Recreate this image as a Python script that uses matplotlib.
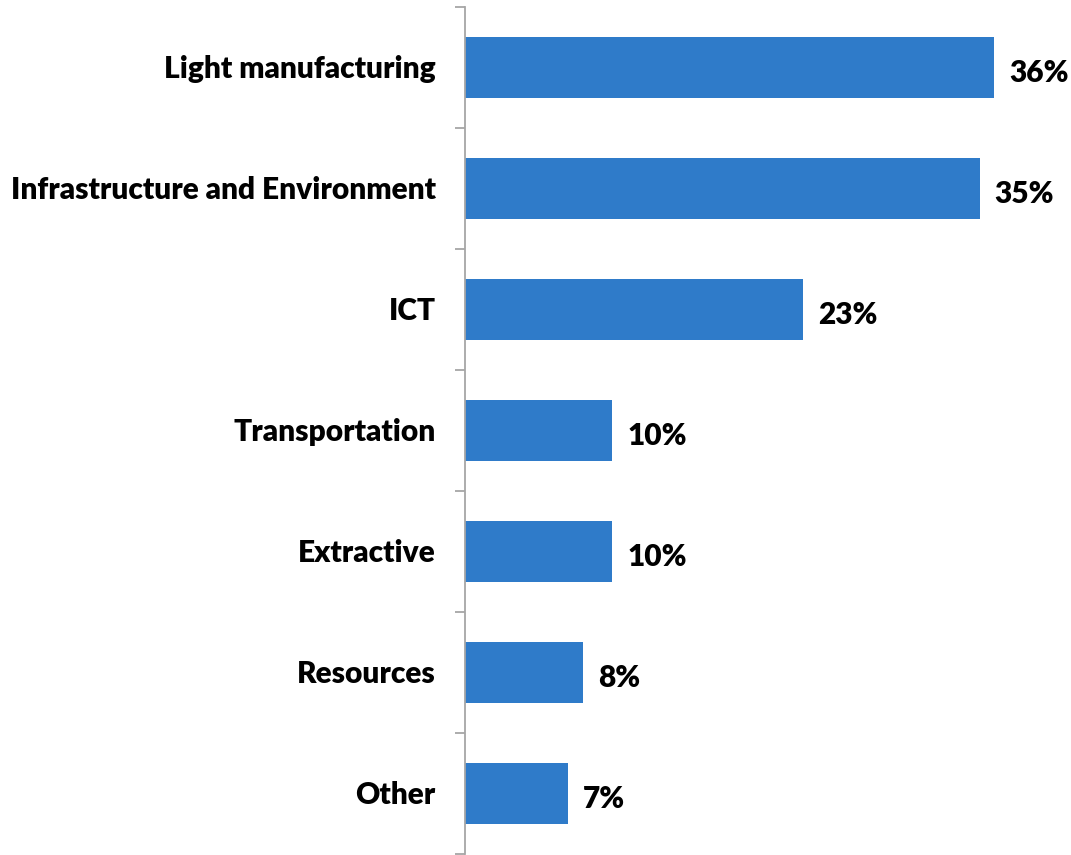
import matplotlib
matplotlib.use("Agg")
import matplotlib.pyplot as plt

categories = ["Light manufacturing", "Infrastructure and Environment", "ICT",
              "Transportation", "Extractive", "Resources", "Other"]
values = [36, 35, 23, 10, 10, 8, 7]
value_labels = ["36%", "35%", "23%", "10%", "10%", "8%", "7%"]

bar_color = "#2F7BC9"
axis_color = "#A6A6A6"
font = ["Lato", "DejaVu Sans"]

W, H = 1071, 855
fig = plt.figure(figsize=(W / 100, H / 100), dpi=100)
ax = fig.add_axes([465 / W, 1 - 854 / H, (1053 - 465) / W, (854 - 7) / H])

ypos = list(range(len(categories)))
ax.barh(ypos, values, height=0.5, color=bar_color)
ax.set_xlim(0, 40)
ax.set_ylim(len(categories) - 0.5, -0.5)

for y, v, lab in zip(ypos, values, value_labels):
    ax.annotate(lab, xy=(v, y), xytext=(11, -4), textcoords="offset points",
                ha="left", va="center", fontsize=21.5, fontweight="heavy",
                family=font, color="black")

for y, cat in zip(ypos, categories):
    ax.annotate(cat, xy=(0, y), xytext=(-21, -1), textcoords="offset points",
                ha="right", va="center", fontsize=21.5, fontweight="heavy",
                family=font, color="black")

ax.set_yticks([i - 0.5 for i in range(len(categories) + 1)])
ax.set_yticklabels([])
ax.tick_params(axis="y", length=7, width=1.3, color=axis_color, direction="out")
ax.set_xticks([])
for side in ["top", "right", "bottom"]:
    ax.spines[side].set_visible(False)
ax.spines["left"].set_color(axis_color)
ax.spines["left"].set_linewidth(1.3)

fig.savefig("out.png", dpi=100)
